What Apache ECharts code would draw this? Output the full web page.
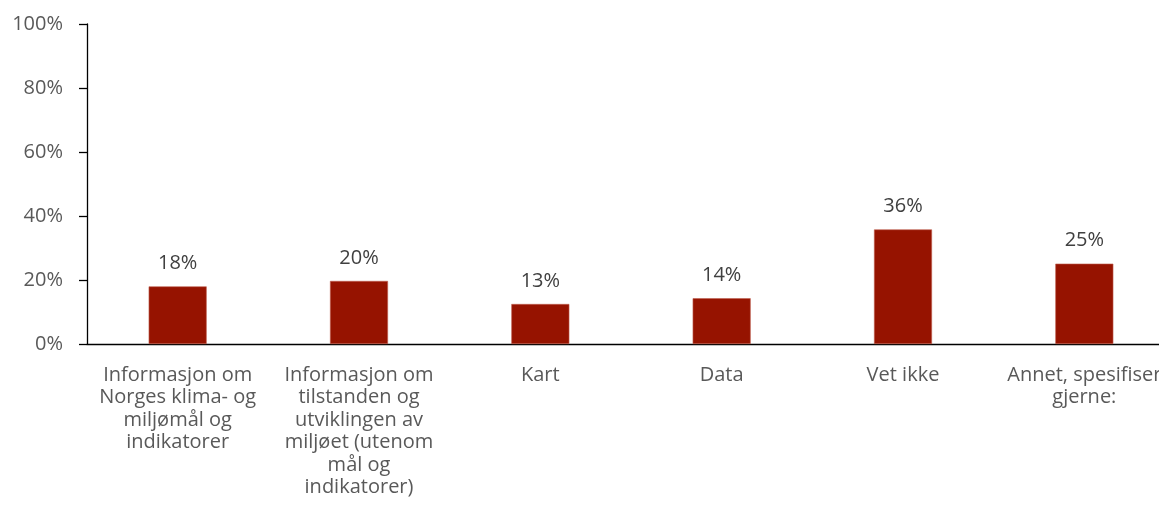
<!DOCTYPE html>
<html><head><meta charset="utf-8">
<script src="https://cdn.jsdelivr.net/npm/echarts@6/dist/echarts.min.js"></script>
<style>html,body{margin:0;padding:0;background:#fff}#c{width:1159px;height:530px}</style>
</head><body><div id="c"></div>
<script>
const categories = [
  "Informasjon om\nNorges klima- og\nmiljømål og\nindikatorer",
  "Informasjon om\ntilstanden og\nutviklingen av\nmiljøet (utenom\nmål og\nindikatorer)",
  "Kart",
  "Data",
  "Vet ikke",
  "Annet, spesifiser\ngjerne:"
];
const values = [18, 19.7, 12.5, 14.3, 35.8, 25.1];
const labels = ["18%", "20%", "13%", "14%", "36%", "25%"];
const yTicks = [0, 20, 40, 60, 80, 100];

const font = "'Open Sans', sans-serif";
const chart = echarts.init(document.getElementById('c'), null, {renderer: 'canvas'});
chart.setOption({
  animation: false,
  grid: {left: 87, top: 24, height: 320, width: 1088, containLabel: false, outerBoundsMode: 'none'},
  xAxis: {
    type: 'category', data: categories,
    axisLine: {lineStyle: {color: '#000', width: 1.3}},
    axisTick: {show: false},
    axisLabel: {color: '#595959', fontSize: 20, fontFamily: font, lineHeight: 22.5, margin: 20, interval: 0}
  },
  yAxis: {
    type: 'value', min: 0, max: 100, interval: 20,
    axisLine: {show: true, lineStyle: {color: '#000', width: 1.3}},
    axisTick: {show: true, length: 8, lineStyle: {color: '#000', width: 1.3}},
    splitLine: {show: false},
    axisLabel: {color: '#595959', fontSize: 20, fontFamily: font, margin: 24,
      formatter: v => yTicks.includes(v) ? v + '%' : ''}
  },
  series: [{
    type: 'bar', data: values, barWidth: 58,
    itemStyle: {color: '#961300', borderColor: '#c0604f', borderWidth: 0.6},
    label: {show: true, position: 'top', distance: 13, color: '#404040', fontSize: 20, fontFamily: font,
      formatter: p => labels[p.dataIndex]}
  }]
});
</script></body></html>
